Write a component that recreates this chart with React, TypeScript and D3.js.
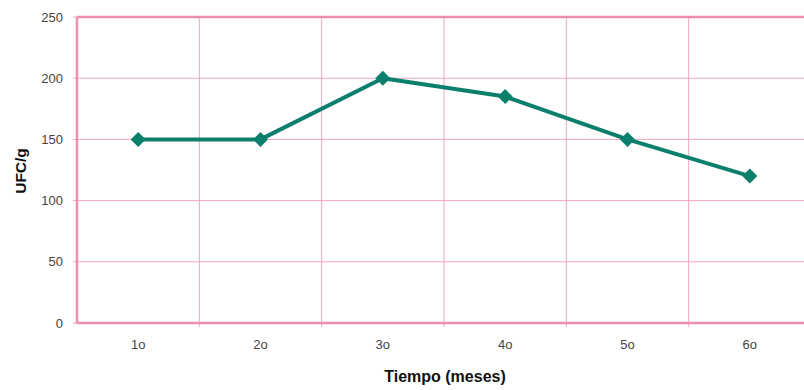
import React from "react";
import * as d3 from "d3";

const months = ["1o", "2o", "3o", "4o", "5o", "6o"];
const ufc = [150, 150, 200, 185, 150, 120];
const yTicks = [0, 50, 100, 150, 200, 250];

const W = 804;
const H = 390;
const margin = { left: 77, top: 17, right: -7, bottom: 67 };

export default function App() {
  const x = d3
    .scaleBand<string>()
    .domain(months)
    .range([margin.left, W - margin.right])
    .padding(0);
  const y = d3.scaleLinear().domain([0, 250]).range([H - margin.bottom, margin.top]);

  const cx = (m: string) => (x(m) as number) + x.bandwidth() / 2;
  const line = d3
    .line<number>()
    .x((_, i) => cx(months[i]))
    .y((d) => y(d));

  const grid = "#f1a6bf";
  const axis = "#ee8fae";
  const bottom = y(0);
  const top = y(250);

  return (
    <svg
      width={W}
      height={H}
      style={{ position: "absolute", left: 0, top: 0, background: "#fff" }}
      fontFamily="'Liberation Sans', Arial, sans-serif"
    >
      {/* horizontal gridlines */}
      {yTicks.map((t) => (
        <line
          key={"h" + t}
          x1={margin.left - 4}
          x2={W}
          y1={y(t)}
          y2={y(t)}
          stroke={grid}
          strokeWidth={1}
        />
      ))}
      {/* vertical category separators */}
      {months.slice(1).map((m) => (
        <line
          key={"v" + m}
          x1={x(m) as number}
          x2={x(m) as number}
          y1={top}
          y2={bottom + 4}
          stroke={grid}
          strokeWidth={1}
        />
      ))}
      {/* axes frame */}
      <line x1={margin.left} x2={margin.left} y1={top} y2={bottom} stroke={axis} strokeWidth={2.5} />
      <line x1={margin.left} x2={W} y1={top} y2={top} stroke={axis} strokeWidth={2.5} />
      <line x1={margin.left} x2={W} y1={bottom} y2={bottom} stroke={axis} strokeWidth={2.5} />

      {/* y tick labels */}
      {yTicks.map((t) => (
        <text
          key={"yl" + t}
          x={margin.left - 14}
          y={y(t)}
          dy="0.35em"
          textAnchor="end"
          fontSize={13}
          fill="#444"
        >
          {t}
        </text>
      ))}
      {/* x tick labels */}
      {months.map((m) => (
        <text
          key={"xl" + m}
          x={cx(m)}
          y={bottom + 26}
          textAnchor="middle"
          fontSize={13}
          fill="#444"
        >
          {m}
        </text>
      ))}

      {/* series */}
      <path d={line(ufc) || ""} fill="none" stroke="#0a7f6c" strokeWidth={4} strokeLinejoin="round" />
      {ufc.map((v, i) => {
        const px = cx(months[i]);
        const py = y(v);
        const s = 7.5;
        return (
          <path
            key={"m" + i}
            d={`M${px},${py - s}L${px + s},${py}L${px},${py + s}L${px - s},${py}Z`}
            fill="#0a7f6c"
          />
        );
      })}

      {/* axis titles */}
      <text
        x={445}
        y={382}
        textAnchor="middle"
        fontSize={16}
        fontWeight="bold"
        fill="#111"
      >
        Tiempo (meses)
      </text>
      <text
        transform={`translate(26,${171}) rotate(-90)`}
        textAnchor="middle"
        fontSize={15.5}
        fontWeight="bold"
        fill="#111"
      >
        UFC/g
      </text>
    </svg>
  );
}
